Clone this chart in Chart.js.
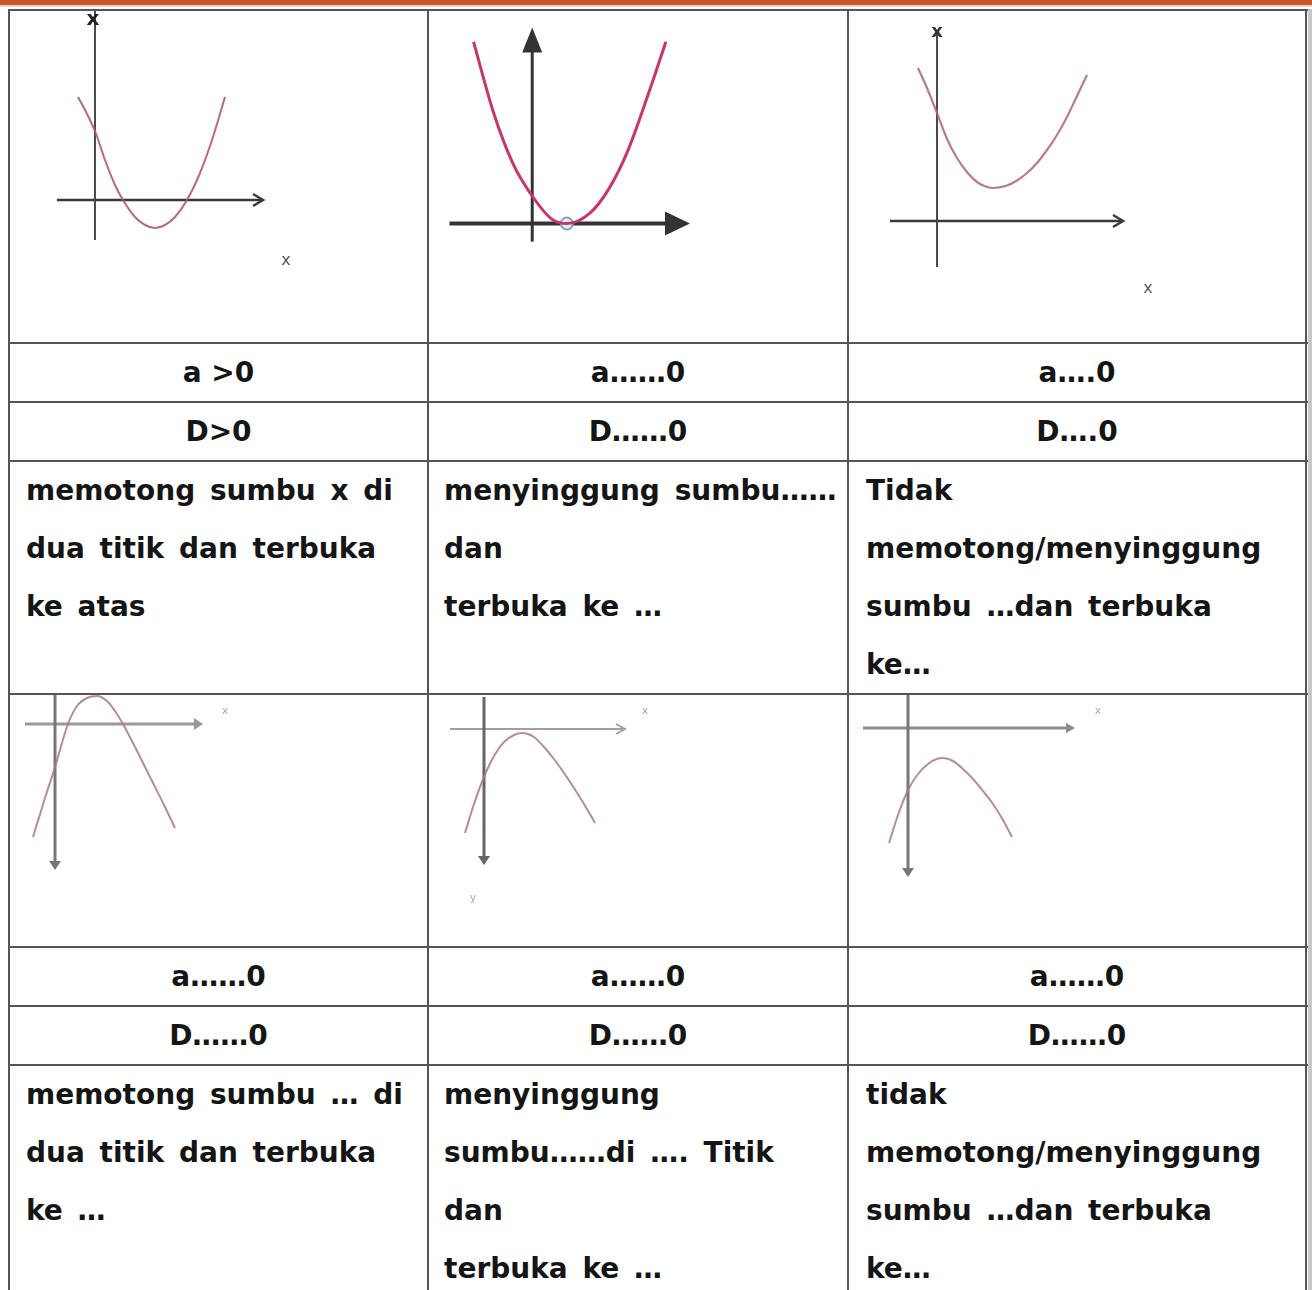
<!DOCTYPE html>
<html>
<head>
<meta charset="utf-8">
<script src="https://cdn.jsdelivr.net/npm/chart.js@4.4.1/dist/chart.umd.min.js"></script>
<style>
  html,body{margin:0;padding:0;background:#fff;}
  body{width:1312px;height:1290px;position:relative;overflow:hidden;font-family:"DejaVu Sans",sans-serif;}
  .bar{position:absolute;left:0;top:0;width:1312px;height:5px;background:#c9562c;}
  .bar2{position:absolute;left:0;top:5px;width:1312px;height:2px;background:#f2d2c2;}
  .hl{position:absolute;height:2px;background:#555;z-index:5;}
  .vl{position:absolute;width:2px;background:#555;z-index:5;}
  .cv{position:absolute;}
  .ctr{position:absolute;text-align:center;font-weight:bold;font-size:28px;color:#151515;}
  .desc{position:absolute;font-weight:bold;font-size:28px;line-height:58px;color:#151515;word-spacing:5px;white-space:nowrap;}
  .lab{position:absolute;transform:translate(-50%,-50%);font-family:"DejaVu Sans",sans-serif;}
</style>
</head>
<body>
<div class="bar"></div><div class="bar2"></div>
<script>
// ---------- table texts ----------
const aRow1 = ['a >0', 'a……0', 'a….0'];
const dRow1 = ['D>0', 'D……0', 'D….0'];
const desc1 = [
  ['memotong sumbu x di', 'dua titik dan terbuka', 'ke atas'],
  ['menyinggung sumbu……', 'dan', 'terbuka ke …'],
  ['Tidak', 'memotong/menyinggung', 'sumbu …dan terbuka', 'ke…']
];
const aRow2 = ['a……0', 'a……0', 'a……0'];
const dRow2 = ['D……0', 'D……0', 'D……0'];
const desc2 = [
  ['memotong sumbu … di', 'dua titik dan terbuka', 'ke …'],
  ['menyinggung', 'sumbu……di …. Titik', 'dan', 'terbuka ke …'],
  ['tidak', 'memotong/menyinggung', 'sumbu …dan terbuka', 'ke…']
];

// ---------- curve values (x, y per sketch) ----------
const c1X = [-1.7, -1.0, 0, 1, 2, 2.8, 4, 5, 6, 7, 8, 9.2, 10.5, 11.8, 13.0];
const c1Y = [10.3, 9.0, 6.9, 4.0, 1.5, 0, -1.7, -2.5, -2.8, -2.5, -1.7, 0, 2.7, 6.3, 10.3];

const c2X = [-6.1, -4, -2, 0, 2, 3.6, 6, 8, 10, 12, 13.9];
const c2Y = [19.1, 11.6, 6.3, 2.9, 0.5, 0, 1.1, 3.7, 7.8, 13.4, 19.1];
const c2VertexX = [3.6];
const c2VertexY = [0];

const c3X = [-1.9, -1, 0, 1, 2, 3, 4, 5, 5.6, 7, 8, 9, 10, 11, 12, 13, 14, 15.0];
const c3Y = [15.3, 13.3, 10.8, 8.2, 6.3, 4.9, 3.9, 3.4, 3.3, 3.55, 4.05, 4.8, 5.8, 7.1, 8.6, 10.4, 12.5, 14.6];

const c4X = [-2.2, -1, 0, 1.3, 2.2, 3.2, 4.2, 5.2, 6.0, 6.8, 8, 9, 10, 11, 12.0];
const c4Y = [-11.3, -7.4, -4.3, 0, 1.8, 2.6, 2.8, 2.3, 1.3, 0, -2.3, -4.3, -6.3, -8.3, -10.4];

const c5X = [-1.9, -1, 0, 1, 2, 3, 3.8, 5, 6, 7, 8, 9, 10, 11.1];
const c5Y = [-10.4, -7.5, -4.8, -2.7, -1.3, -0.6, -0.4, -0.8, -1.8, -3.0, -4.4, -5.9, -7.5, -9.4];

const c6X = [-1.9, -1, 0, 1, 2, 3, 3.5, 4.5, 5.5, 6.5, 7.5, 8.5, 9.5, 10.4];
const c6Y = [-11.5, -8.7, -6.2, -4.6, -3.6, -3.05, -3.0, -3.3, -4.1, -5.1, -6.3, -7.6, -9.2, -10.9];

const pairs = (xs, ys) => xs.map((x, i) => ({x: x, y: ys[i]}));

// ---------- layout ----------
const H_LINES = [9, 342, 401, 460, 693, 946, 1005, 1064];
const V_LINES = [8, 427, 847, 1305];
const COLS = [[10, 427], [429, 847], [849, 1305]];

H_LINES.forEach(y => {
  const d = document.createElement('div'); d.className = 'hl';
  d.style.left = '8px'; d.style.width = '1300px'; d.style.top = y + 'px';
  document.body.appendChild(d);
});
V_LINES.forEach(x => {
  const d = document.createElement('div'); d.className = 'vl';
  d.style.left = x + 'px'; d.style.top = '9px'; d.style.height = '1290px';
  document.body.appendChild(d);
});
const edge = document.createElement('div');
edge.style.cssText = 'position:absolute;left:1308px;top:9px;width:4px;height:1290px;background:#c8c8c8;';
document.body.appendChild(edge);

function centerRow(texts, top, bottom) {
  texts.forEach((t, i) => {
    const d = document.createElement('div'); d.className = 'ctr';
    d.style.left = COLS[i][0] + 'px'; d.style.width = (COLS[i][1] - COLS[i][0]) + 'px';
    d.style.top = (top + 2) + 'px'; d.style.height = (bottom - top - 2) + 'px';
    d.style.lineHeight = (bottom - top - 2) + 'px';
    d.textContent = t;
    document.body.appendChild(d);
  });
}
function descRow(lines, top) {
  const pads = [16, 15, 17];
  lines.forEach((ls, i) => {
    const d = document.createElement('div'); d.className = 'desc';
    d.style.left = (COLS[i][0] + pads[i]) + 'px'; d.style.top = (top + 1) + 'px';
    ls.forEach((l, k) => {
      if (k) d.appendChild(document.createElement('br'));
      d.appendChild(document.createTextNode(l));
    });
    document.body.appendChild(d);
  });
}
centerRow(aRow1, 342, 401);
centerRow(dRow1, 401, 460);
descRow(desc1, 461);
centerRow(aRow2, 946, 1005);
centerRow(dRow2, 1005, 1064);
descRow(desc2, 1065);

// ---------- axis-drawing plugin (through the chart scales) ----------
const axesPlugin = {
  id: 'sketchAxes',
  beforeDatasetsDraw(chart, args, opts) {
    const ctx = chart.ctx, sx = chart.scales.x, sy = chart.scales.y;
    (opts.axes || []).forEach(a => {
      const x0 = sx.getPixelForValue(a.from[0]), y0 = sy.getPixelForValue(a.from[1]);
      const x1 = sx.getPixelForValue(a.to[0]), y1 = sy.getPixelForValue(a.to[1]);
      const ang = Math.atan2(y1 - y0, x1 - x0);
      const L = a.size[0], W = a.size[1];
      ctx.save();
      ctx.strokeStyle = a.color; ctx.fillStyle = a.color; ctx.lineWidth = a.width;
      ctx.lineCap = 'butt';
      ctx.beginPath();
      const endX = a.arrow === 'filled' ? x1 - Math.cos(ang) * L * 0.8 : x1;
      const endY = a.arrow === 'filled' ? y1 - Math.sin(ang) * L * 0.8 : y1;
      ctx.moveTo(x0, y0); ctx.lineTo(endX, endY); ctx.stroke();
      const bx = x1 - Math.cos(ang) * L, by = y1 - Math.sin(ang) * L;
      const px = -Math.sin(ang) * W, py = Math.cos(ang) * W;
      if (a.arrow === 'filled') {
        ctx.beginPath();
        ctx.moveTo(x1, y1); ctx.lineTo(bx + px, by + py); ctx.lineTo(bx - px, by - py);
        ctx.closePath(); ctx.fill();
      } else if (a.arrow === 'chevron') {
        ctx.lineWidth = a.width;
        ctx.beginPath();
        ctx.moveTo(bx + px, by + py); ctx.lineTo(x1, y1); ctx.lineTo(bx - px, by - py);
        ctx.stroke();
      }
      ctx.restore();
    });
  }
};
Chart.register(axesPlugin);

function makeSketch(box, range, series, curveStyle, axes, extra) {
  const c = document.createElement('canvas');
  c.className = 'cv';
  c.style.left = box[0] + 'px'; c.style.top = box[1] + 'px';
  c.style.width = box[2] + 'px'; c.style.height = box[3] + 'px';
  c.width = box[2]; c.height = box[3];
  document.body.appendChild(c);
  const datasets = [{
    data: series,
    borderColor: curveStyle.color,
    borderWidth: curveStyle.width,
    pointRadius: 0,
    tension: 0.4,
    cubicInterpolationMode: 'monotone',
    fill: false
  }];
  if (extra) datasets.push(extra);
  new Chart(c, {
    type: 'line',
    data: {datasets},
    options: {
      responsive: false,
      animation: false,
      maintainAspectRatio: false,
      layout: {padding: 0},
      events: [],
      scales: {
        x: {type: 'linear', display: false, min: range[0], max: range[1]},
        y: {type: 'linear', display: false, min: range[2], max: range[3]}
      },
      plugins: {legend: {display: false}, tooltip: {enabled: false}, sketchAxes: {axes}},
      clip: false
    }
  });
}

// Sketch 1
makeSketch([10, 10, 418, 332], [-8.5, 33.3, -14.2, 19.0], pairs(c1X, c1Y),
  {color: 'rgba(176,90,105,0.9)', width: 2},
  [
    {from: [-3.8, 0], to: [16.8, 0], arrow: 'chevron', size: [10, 6], color: '#3a3a3a', width: 2.5},
    {from: [0, -4.0], to: [0, 18.9], arrow: null, size: [0, 0], color: '#4a4a4a', width: 2}
  ]);
// Sketch 2
makeSketch([429, 10, 419, 332], [-9.9, 32.0, -11.6, 21.6], pairs(c2X, c2Y),
  {color: '#c8346c', width: 3},
  [
    {from: [-8.6, 0], to: [16.4, 0], arrow: 'filled', size: [25, 12], color: '#333', width: 4},
    {from: [0, -1.9], to: [0, 20.6], arrow: 'filled', size: [25, 10], color: '#333', width: 3}
  ],
  {type: 'scatter', data: pairs(c2VertexX, c2VertexY), pointRadius: 6, pointBorderWidth: 2,
   pointBackgroundColor: '#e4eef8', pointBorderColor: '#7f9fc2', showLine: false});
// Sketch 3
makeSketch([849, 10, 458, 332], [-8.8, 37.0, -12.1, 21.1], pairs(c3X, c3Y),
  {color: 'rgba(176,100,115,0.85)', width: 2.2},
  [
    {from: [-4.7, 0], to: [18.6, 0], arrow: 'chevron', size: [10, 6], color: '#3a3a3a', width: 2.5},
    {from: [0, -4.6], to: [0, 18.9], arrow: null, size: [0, 0], color: '#4a4a4a', width: 2}
  ]);
// Sketch 4
makeSketch([10, 694, 418, 252], [-4.5, 37.3, -22.2, 3.0], pairs(c4X, c4Y),
  {color: 'rgba(170,120,128,0.85)', width: 2},
  [
    {from: [-3.0, 0], to: [14.8, 0], arrow: 'filled', size: [9, 6], color: '#999', width: 3},
    {from: [0, 3.0], to: [0, -14.6], arrow: 'filled', size: [9, 6], color: '#777', width: 3}
  ]);
// Sketch 5
makeSketch([429, 694, 419, 252], [-5.5, 36.4, -21.7, 3.5], pairs(c5X, c5Y),
  {color: 'rgba(170,120,128,0.85)', width: 2},
  [
    {from: [-3.4, 0], to: [14.1, 0], arrow: 'chevron', size: [9, 5], color: '#a0a0a0', width: 2},
    {from: [0, 3.2], to: [0, -13.6], arrow: 'filled', size: [9, 6], color: '#666', width: 3}
  ]);
// Sketch 6
makeSketch([849, 694, 458, 252], [-5.9, 39.9, -21.8, 3.4], pairs(c6X, c6Y),
  {color: 'rgba(170,120,128,0.85)', width: 2},
  [
    {from: [-4.5, 0], to: [16.7, 0], arrow: 'filled', size: [9, 5], color: '#8a8a8a', width: 3},
    {from: [0, 3.4], to: [0, -14.9], arrow: 'filled', size: [9, 6], color: '#777', width: 3}
  ]);

// ---------- small axis labels ----------
const axisLabels = [
  {t: 'x', x: 93, y: 18, size: 20, color: '#222', w: 'bold'},
  {t: 'x', x: 286, y: 259, size: 16, color: '#555', w: 'normal'},
  {t: 'x', x: 937, y: 30, size: 18, color: '#333', w: 'bold'},
  {t: 'x', x: 1148, y: 287, size: 16, color: '#555', w: 'normal'},
  {t: 'x', x: 225, y: 710, size: 11, color: '#aaa', w: 'normal'},
  {t: 'x', x: 645, y: 710, size: 11, color: '#aaa', w: 'normal'},
  {t: 'y', x: 473, y: 897, size: 11, color: '#aaa', w: 'normal'},
  {t: 'x', x: 1098, y: 710, size: 11, color: '#aaa', w: 'normal'}
];
axisLabels.forEach(l => {
  const s = document.createElement('span'); s.className = 'lab';
  s.style.left = l.x + 'px'; s.style.top = l.y + 'px';
  s.style.fontSize = l.size + 'px'; s.style.color = l.color; s.style.fontWeight = l.w;
  s.textContent = l.t;
  document.body.appendChild(s);
});
</script>
</body>
</html>
